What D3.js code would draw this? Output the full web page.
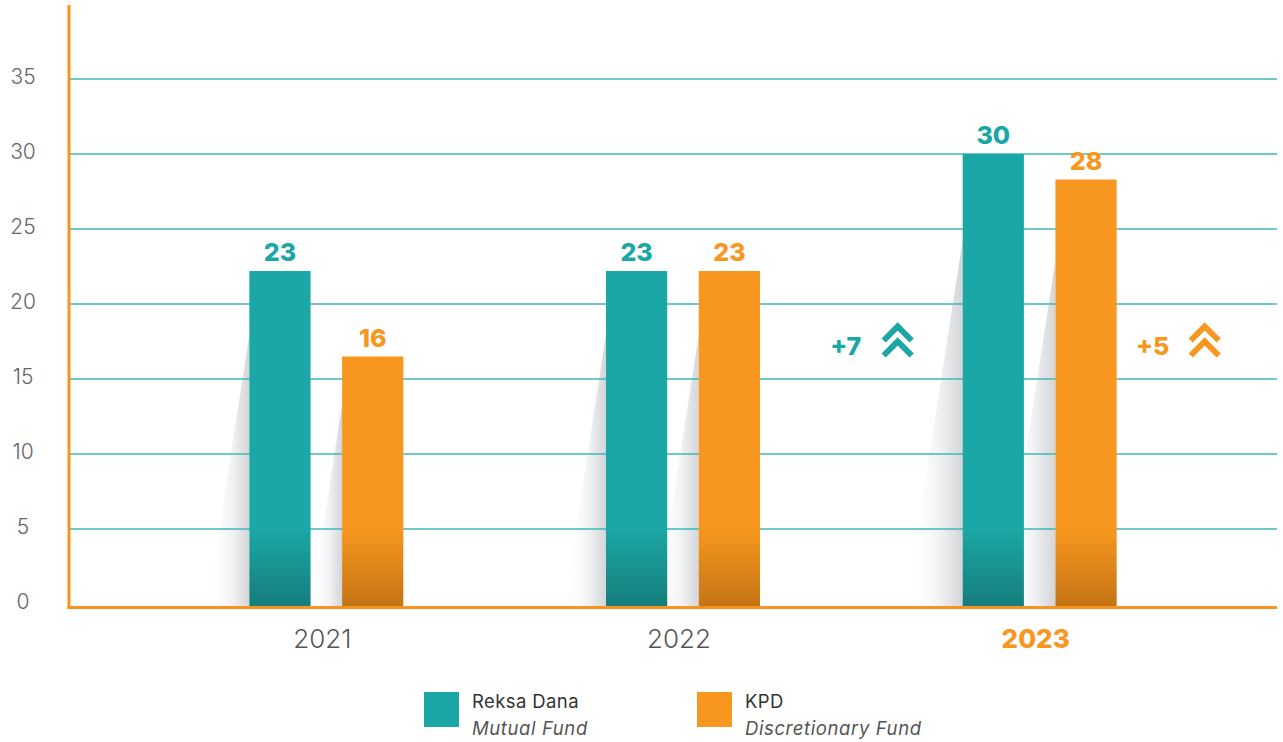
<!DOCTYPE html>
<html lang="en">
<head>
  <meta charset="UTF-8">
  <title>Reksa Dana vs KPD</title>
  <script src="https://d3js.org/d3.v7.min.js"></script>
  <style>
    body { margin: 0; background: #fff; font-family: Inter, "Open Sans", sans-serif; }
  </style>
</head>
<body>
<svg id="chart" width="1283" height="742"></svg>
<script>
// data
const years = ["2021", "2022", "2023"];
const reksaDana = [22.2, 22.2, 30];
const kpd = [16.5, 22.2, 28.3];
const reksaLabels = ["23", "23", "30"];
const kpdLabels = ["16", "23", "28"];
const yTicks = [0, 5, 10, 15, 20, 25, 30, 35];
const deltaLabels = ["+7", "+5"];

const teal = "#1ba7a6", tealDark = "#157f7d";
const orange = "#f7971f", orangeDark = "#c57515";
const axisColor = "#f7941d";

const svg = d3.select("#chart");
const left = 69, right = 1277;

const y = d3.scaleLinear().domain([0, 40]).range([604, 4]);
const x = d3.scaleBand().domain(years).range([148, 1218]);
const inner = d3.scaleBand().domain(["rd", "kpd"]).range([-77, 77]).paddingInner(0.34);

const defs = svg.append("defs");
function barGrad(id, c1, c2) {
  const g = defs.append("linearGradient").attr("id", id)
    .attr("gradientUnits", "userSpaceOnUse")
    .attr("x1", 0).attr("x2", 0).attr("y1", y(5)).attr("y2", y(0));
  g.append("stop").attr("offset", 0).attr("stop-color", c1);
  g.append("stop").attr("offset", 1).attr("stop-color", c2);
}
barGrad("gTeal", teal, tealDark);
barGrad("gOrange", orange, orangeDark);
const sg = defs.append("linearGradient").attr("id", "gShadow")
  .attr("x1", 0).attr("x2", 1).attr("y1", 0).attr("y2", 0);
sg.append("stop").attr("offset", 0).attr("stop-color", "#ffffff").attr("stop-opacity", 0);
sg.append("stop").attr("offset", 0.6).attr("stop-color", "#f0f1f2");
sg.append("stop").attr("offset", 1).attr("stop-color", "#d3d5d8");

const series = [
  { key: "rd", values: reksaDana, labels: reksaLabels, fill: "url(#gTeal)", color: teal },
  { key: "kpd", values: kpd, labels: kpdLabels, fill: "url(#gOrange)", color: orange }
];
const bw = inner.bandwidth();
const barX = (s, i) => x(years[i]) + x.bandwidth() / 2 + inner(s.key);

// shadows behind everything
series.forEach(s => {
  svg.append("g").selectAll("path")
    .data(s.values)
    .join("path")
    .attr("fill", "url(#gShadow)")
    .attr("d", (d, i) => {
      const x0 = barX(s, i), h = (y(0) - y(d)) * 0.81;
      return `M${x0},${y(0) - h}L${x0 - h * 0.155},${y(0) + 2}L${x0},${y(0) + 2}Z`;
    });
});

// gridlines
svg.append("g").selectAll("line")
  .data(yTicks.filter(d => d > 0))
  .join("line")
  .attr("x1", left).attr("x2", right)
  .attr("y1", d => y(d)).attr("y2", d => y(d))
  .attr("stroke", "#3db8b7").attr("stroke-width", 1.5);

// y tick labels
svg.append("g").selectAll("text")
  .data(yTicks)
  .join("text")
  .attr("x", 23).attr("y", d => y(d) + 5)
  .attr("text-anchor", "middle")
  .attr("font-size", 21).attr("font-weight", 300).attr("fill", "#666")
  .text(d => d);

series.forEach(s => {
  const g = svg.append("g");
  g.selectAll("rect")
    .data(s.values)
    .join("rect")
    .attr("x", (d, i) => barX(s, i))
    .attr("width", bw)
    .attr("y", d => y(d))
    .attr("height", d => y(0) - y(d) + 3)
    .attr("fill", s.fill);
  g.selectAll("text")
    .data(s.values)
    .join("text")
    .attr("x", (d, i) => barX(s, i) + bw / 2)
    .attr("y", d => y(d) - 10)
    .attr("text-anchor", "middle")
    .attr("font-size", 25).attr("font-weight", 800)
    .attr("fill", s.color)
    .text((d, i) => s.labels[i]);
});

// axes
svg.append("line").attr("x1", left).attr("x2", left).attr("y1", 5).attr("y2", 609)
  .attr("stroke", axisColor).attr("stroke-width", 3);
svg.append("line").attr("x1", left - 1.5).attr("x2", right).attr("y1", 607.5).attr("y2", 607.5)
  .attr("stroke", axisColor).attr("stroke-width", 3);

// year labels
svg.append("g").selectAll("text")
  .data(years)
  .join("text")
  .attr("x", d => x(d) + x.bandwidth() / 2 - 4)
  .attr("y", 648)
  .attr("text-anchor", "middle")
  .attr("font-size", 26)
  .attr("font-weight", (d, i) => i === years.length - 1 ? 800 : 300)
  .attr("fill", (d, i) => i === years.length - 1 ? orange : "#555")
  .text(d => d);

// growth annotations
const lastC = x(years[years.length - 1]) + x.bandwidth() / 2;
const deltas = [
  { text: deltaLabels[0], color: teal, x: lastC - 194 },
  { text: deltaLabels[1], color: orange, x: lastC + 113 }
];
deltas.forEach(d => {
  const g = svg.append("g").attr("transform", `translate(${d.x},${y(17.3)})`);
  g.append("text")
    .attr("x", 0).attr("y", 10)
    .attr("text-anchor", "middle")
    .attr("font-size", 25).attr("font-weight", 800)
    .attr("fill", d.color)
    .text(d.text);
  [-18, -3].forEach(ay => {
    g.append("path")
      .attr("d", `M${38},${ay + 14}L${52},${ay}L${66},${ay + 14}`)
      .attr("fill", "none")
      .attr("stroke", d.color)
      .attr("stroke-width", 6)
      .attr("stroke-linejoin", "miter");
  });
});

// legend
const legend = [
  { name: "Reksa Dana", sub: "Mutual Fund", color: teal, x: 424 },
  { name: "KPD", sub: "Discretionary Fund", color: orange, x: 697 }
];
legend.forEach(l => {
  const g = svg.append("g").attr("transform", `translate(${l.x},692)`);
  g.append("rect").attr("width", 35).attr("height", 35).attr("fill", l.color);
  g.append("text").attr("x", 48).attr("y", 16)
    .attr("font-size", 18.5).attr("letter-spacing", 0.4).attr("fill", "#333").text(l.name);
  g.append("text").attr("x", 48).attr("y", 43)
    .attr("font-size", 18.5).attr("letter-spacing", 0.6).attr("font-style", "italic")
    .attr("fill", "#555").text(l.sub);
});
</script>
</body>
</html>
